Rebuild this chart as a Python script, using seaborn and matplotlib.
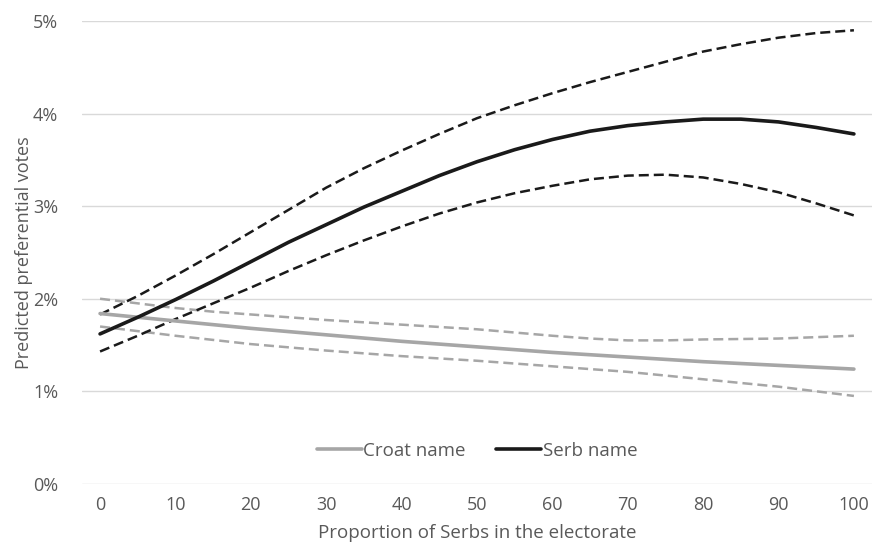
import numpy as np
import pandas as pd
import seaborn as sns
from matplotlib import pyplot as plt
from matplotlib.ticker import FuncFormatter

# Valores (proporção de sérvios x votos preferenciais previstos, %)
share = [0, 5, 10, 15, 20, 25, 30, 35, 40, 45, 50,
         55, 60, 65, 70, 75, 80, 85, 90, 95, 100]

serb_mean = [1.62, 1.80, 1.99, 2.19, 2.40, 2.61, 2.80, 2.99, 3.16, 3.33, 3.48,
             3.61, 3.72, 3.81, 3.87, 3.91, 3.94, 3.94, 3.91, 3.85, 3.78]
serb_upper = [1.83, 2.03, 2.25, 2.48, 2.72, 2.96, 3.20, 3.41, 3.60, 3.78, 3.95,
              4.09, 4.22, 4.34, 4.45, 4.56, 4.67, 4.75, 4.82, 4.87, 4.90]
serb_lower = [1.43, 1.60, 1.78, 1.95, 2.12, 2.30, 2.47, 2.63, 2.78, 2.92, 3.04,
              3.14, 3.22, 3.29, 3.33, 3.34, 3.31, 3.24, 3.15, 3.03, 2.90]

croat_mean = [1.84, 1.80, 1.76, 1.72, 1.68, 1.645, 1.61, 1.575, 1.54, 1.51, 1.48,
              1.45, 1.42, 1.395, 1.37, 1.345, 1.32, 1.30, 1.28, 1.26, 1.24]
croat_upper = [2.00, 1.95, 1.90, 1.86, 1.83, 1.80, 1.77, 1.745, 1.72, 1.695, 1.67,
               1.635, 1.60, 1.57, 1.55, 1.55, 1.56, 1.565, 1.57, 1.585, 1.60]
croat_lower = [1.70, 1.65, 1.60, 1.555, 1.51, 1.475, 1.44, 1.41, 1.38, 1.355, 1.33,
               1.30, 1.27, 1.24, 1.21, 1.17, 1.13, 1.09, 1.05, 1.00, 0.95]

x_ticks = [0, 10, 20, 30, 40, 50, 60, 70, 80, 90, 100]
y_ticks = [0, 1, 2, 3, 4, 5]

grey = '#a6a6a6'
black = '#1a1a1a'
text_col = '#595959'

sns.set_theme(style='white', rc={'figure.figsize': (8.72, 5.53)})
plt.rcParams['font.family'] = ['Open Sans', 'DejaVu Sans']

df = pd.DataFrame({'share': share,
                   'serb_mean': serb_mean, 'serb_upper': serb_upper, 'serb_lower': serb_lower,
                   'croat_mean': croat_mean, 'croat_upper': croat_upper, 'croat_lower': croat_lower})

fig = plt.figure(dpi=100)
ax = fig.add_axes([0.094, 0.125, 0.906, 0.837])

ax.grid(axis='y', color='#d9d9d9', linewidth=1)
ax.set_axisbelow(True)

# intervalos (tracejados)
dash = (4, 2)
for col, c in [('croat_upper', grey), ('croat_lower', grey),
               ('serb_upper', black), ('serb_lower', black)]:
    sns.lineplot(data=df, x='share', y=col, ax=ax, color=c, lw=1.8)
    ax.lines[-1].set_dashes(dash)

# estimativas pontuais
sns.lineplot(data=df, x='share', y='croat_mean', ax=ax, color=grey, lw=2.6, label='Croat name')
sns.lineplot(data=df, x='share', y='serb_mean', ax=ax, color=black, lw=2.6, label='Serb name')

ax.set_xlim(-2.4, 102.4)
ax.set_ylim(0, 5)
ax.set_xticks(x_ticks)
ax.set_yticks(y_ticks)
ax.yaxis.set_major_formatter(FuncFormatter(lambda v, p: f'{v:.0f}%'))
ax.tick_params(axis='both', colors=text_col, labelsize=13, length=0)
ax.tick_params(axis='x', pad=9)
ax.tick_params(axis='y', pad=17)

ax.set_xlabel('Proportion of Serbs in the electorate', color=text_col, fontsize=13.5, labelpad=7)
ax.set_ylabel('Predicted preferential votes', color=text_col, fontsize=13, labelpad=0)

for s in ax.spines.values():
    s.set_visible(False)

leg = ax.legend(loc='center', bbox_to_anchor=(0.5, 0.072), ncol=2, frameon=False,
                fontsize=13.5, handlelength=2.4, handletextpad=0.1, columnspacing=1.6)
for t in leg.get_texts():
    t.set_color(text_col)

fig.savefig('out.png', dpi=100)
